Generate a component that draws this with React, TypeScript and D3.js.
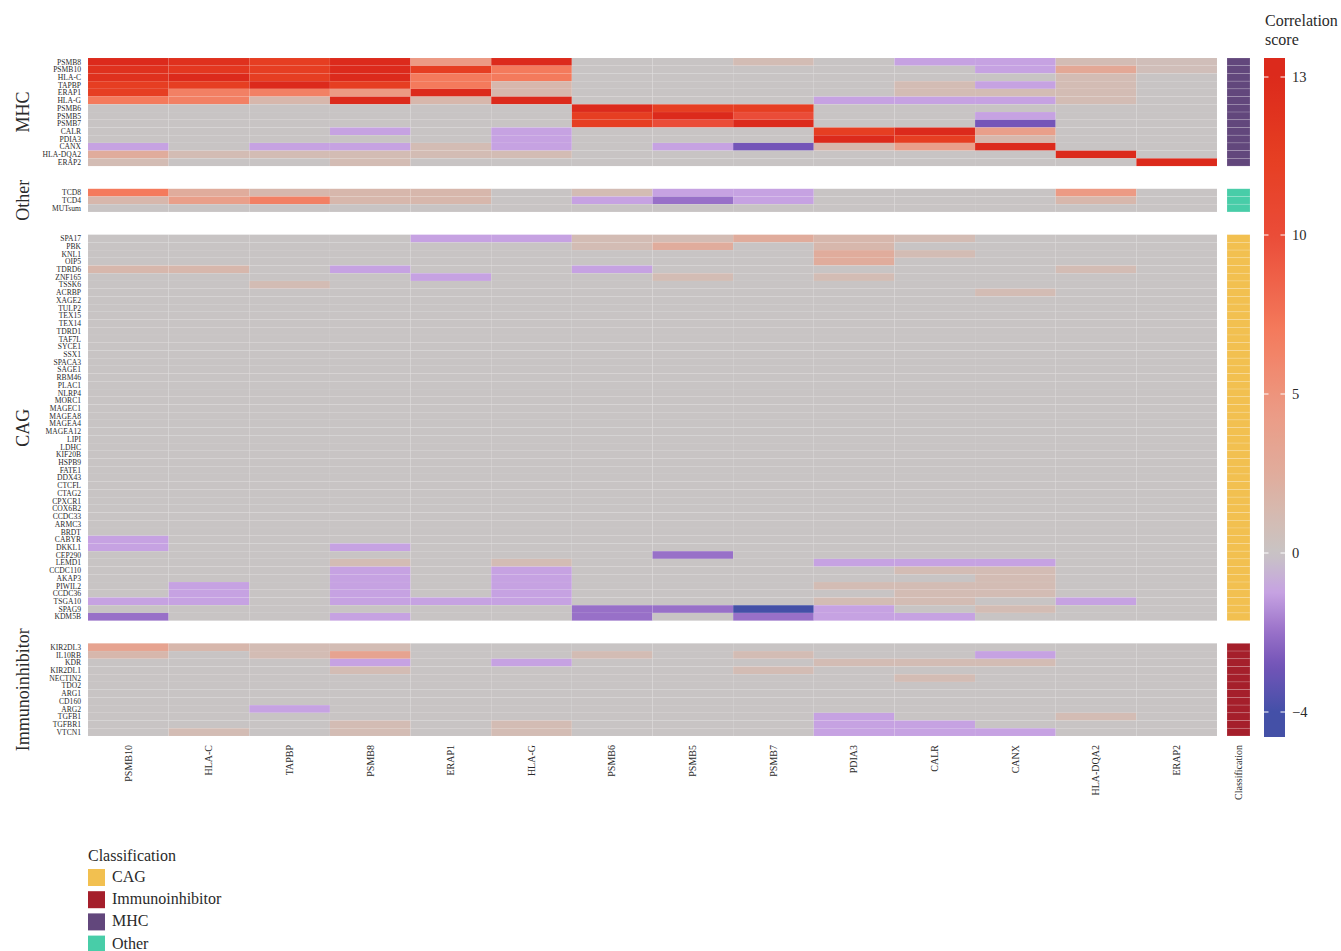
import { useEffect, useRef } from "react";
import * as d3 from "d3";

// heatmap columns
const columns = [
  "PSMB10", "HLA-C", "TAPBP", "PSMB8", "ERAP1", "HLA-G", "PSMB6",
  "PSMB5", "PSMB7", "PDIA3", "CALR", "CANX", "HLA-DQA2", "ERAP2",
];

const mhcRows = [
  "PSMB8", "PSMB10", "HLA-C", "TAPBP", "ERAP1", "HLA-G", "PSMB6",
  "PSMB5", "PSMB7", "CALR", "PDIA3", "CANX", "HLA-DQA2", "ERAP2",
];
const mhcValues = [
  [13, 12.5, 11.5, 13, 4.5, 13, 0, 0, 1, 0, -1, -1, 1, 0.7],
  [12.5, 12, 11.5, 13, 11.5, 7, 0, 0, 0, 0, 0, -1, 3, 0.7],
  [12.5, 13, 11.5, 13, 7, 7, 0, 0, 0, 0, 0, 0, 1, 0],
  [11.5, 11.5, 13, 11.5, 7, 1.5, 0, 0, 0, 0, 1, -1, 1, 0],
  [11.5, 6.5, 6.5, 4.5, 13, 1.5, 0, 0, 0, 0, 1, 1, 1, 0],
  [7, 6.5, 1.5, 13, 1.5, 13, 0, 0, 0, -1, -1, -1, 1, 0],
  [0, 0, 0, 0, 0, 0, 13, 11.5, 11.5, 0, 0, 0, 0, 0],
  [0, 0, 0, 0, 0, 0, 11.5, 13, 10, 0, 0, -1, 0, 0],
  [0, 0, 0, 0, 0, 0, 11.5, 10, 13, 0, 0, -2.8, 0, 0],
  [0, 0, 0, -1, 0, -1, 0, 0, 0, 11.5, 13, 4, 0, 0],
  [0, 0, 0, 0, 0, -1, 0, 0, 0, 13, 11.5, 1.5, 0, 0],
  [-1, 0, -1, -1, 1, -1, 0, -1, -2.8, 1.5, 4, 13, 0, 0],
  [2.5, 1, 1, 1, 1, 1, 0, 0, 0, 0, 0, 0, 13, 0],
  [1, 0, 0, 1, 0, 0, 0, 0, 0, 0, 0, 0, 0, 13],
];

const otherRows = ["TCD8", "TCD4", "MUTsum"];
const otherValues = [
  [7, 2.5, 1.5, 1.5, 1.5, 0, 1, -1, -1, 0, 0, 0, 4.5, 0],
  [1.5, 4, 6.5, 1.5, 1.5, 0, -1, -2, -1, 0, 0, 0, 1.5, 0],
  [0, 0, 0, 0, 0, 0, 0, 0, 0, 0, 0, 0, 0, 0],
];

const cagRows = [
  "SPA17", "PBK", "KNL1", "OIP5", "TDRD6", "ZNF165", "TSSK6", "ACRBP",
  "XAGE2", "TULP2", "TEX15", "TEX14", "TDRD1", "TAF7L", "SYCE1", "SSX1",
  "SPACA3", "SAGE1", "RBM46", "PLAC1", "NLRP4", "MORC1", "MAGEC1", "MAGEA8",
  "MAGEA4", "MAGEA12", "LIPI", "LDHC", "KIF20B", "HSPB9", "FATE1", "DDX43",
  "CTCFL", "CTAG2", "CPXCR1", "COX6B2", "CCDC33", "ARMC3", "BRDT", "CABYR",
  "DKKL1", "CEP290", "LEMD1", "CCDC110", "AKAP3", "PIWIL2", "CCDC36",
  "TSGA10", "SPAG9", "KDM5B",
];
const z = [0, 0, 0, 0, 0, 0, 0, 0, 0, 0, 0, 0, 0, 0];
const cagValues = [
  [0, 0, 0, 0, -1, -1, 1, 1, 2.5, 1.5, 1, 0, 0, 0],
  [0, 0, 0, 0, 0, 0, 1, 2.5, 0, 1.5, 0, 0, 0, 0],
  [0, 0, 0, 0, 0, 0, 0, 0, 0, 2.5, 1, 0, 0, 0],
  [0, 0, 0, 0, 0, 0, 0, 0, 0, 2.5, 0, 0, 0, 0],
  [1.5, 1.5, 0, -1, 0, 0, -1, 0, 0, 0, 0, 0, 1, 0],
  [0, 0, 0, 0, -1, 0, 0, 1, 0, 1, 0, 0, 0, 0],
  [0, 0, 1, 0, 0, 0, 0, 0, 0, 0, 0, 0, 0, 0],
  [0, 0, 0, 0, 0, 0, 0, 0, 0, 0, 0, 1, 0, 0],
  z, z, z, z, z, z, z, z, z, z, z, z, z, z, z, z,
  z, z, z, z, z, z, z, z, z, z, z, z, z, z, z,
  [-1, 0, 0, 0, 0, 0, 0, 0, 0, 0, 0, 0, 0, 0],
  [-1, 0, 0, -1, 0, 0, 0, 0, 0, 0, 0, 0, 0, 0],
  [0, 0, 0, 0, 0, 0, 0, -2, 0, 0, 0, 0, 0, 0],
  [0, 0, 0, 1, 0, 1, 0, 0, 0, -1, -1, -1, 0, 0],
  [0, 0, 0, -1, 0, -1, 0, 0, 0, 0, 1, 1, 0, 0],
  [0, 0, 0, -1, 0, -1, 0, 0, 0, 0, 0, 1, 0, 0],
  [0, -1, 0, -1, 0, -1, 0, 0, 0, 1, 1, 1, 0, 0],
  [0, -1, 0, -1, 0, -1, 0, 0, 0, 0, 1, 1, 0, 0],
  [-1, -1, 0, -1, -1, -1, 0, 0, 0, 1, 1, 0, -1, 0],
  [0, 0, 0, 0, 0, 0, -2, -2, -4.5, -1, 0, 1, 0, 0],
  [-2, 0, 0, -1, 0, 0, -2, 0, -2, -1, -1, 0, 0, 0],
];

const immRows = [
  "KIR2DL3", "IL10RB", "KDR", "KIR2DL1", "NECTIN2", "TDO2", "ARG1",
  "CD160", "ARG2", "TGFB1", "TGFBR1", "VTCN1",
];
const immValues = [
  [3.5, 1.5, 1, 1, 0, 0, 0, 0, 0, 0, 0, 0, 0, 0],
  [1.5, 0, 1, 3.5, 0, 0, 1, 0, 1, 0, 0, -1, 0, 0],
  [0, 0, 0, -1, 0, -1, 0, 0, 0, 1, 1, 1, 0, 0],
  [0, 0, 0, 1, 0, 0, 0, 0, 1, 0, 0, 0, 0, 0],
  [0, 0, 0, 0, 0, 0, 0, 0, 0, 0, 1, 0, 0, 0],
  z, z, z,
  [0, 0, -1, 0, 0, 0, 0, 0, 0, 0, 0, 0, 0, 0],
  [0, 0, 0, 0, 0, 0, 0, 0, 0, -1, 0, 0, 1, 0],
  [0, 0, 0, 1, 0, 1, 0, 0, 0, -1, -1, 0, 0, 0],
  [0, 1, 0, 1, 0, 1, 0, 0, 0, -1, -1, -1, 0, 0],
];

const groupNames = ["MHC", "Other", "CAG", "Immunoinhibitor"];
const groupColors = ["#62477c", "#48cda8", "#f2c050", "#a51f2b"];
const legendOrder = ["CAG", "Immunoinhibitor", "MHC", "Other"];

// colour stops of the correlation score
const colorStops = [-4.8, -4, -2.8, -2, -1, 0, 1, 2.5, 4.5, 7, 10, 11.5, 13, 13.6];
const colorValues = [
  "#4450a6", "#4450a8", "#7455b8", "#9870c8", "#c6a2e2", "#c8c4c4", "#d3bcb4",
  "#e0ac9c", "#ec9a84", "#f47a5c", "#ea4c38", "#e63e22", "#dc2a1c", "#dc2a1c",
];
const legendTicks = [-4, 0, 5, 10, 13];

const FONT = "'Liberation Serif', 'DejaVu Serif', serif";
const INK = "#2a2a2a";

const App = () => {
  const container = useRef(null);

  useEffect(() => {
    const svg = d3.select(container.current);
    svg.selectAll("*").remove();

    const color = d3
      .scaleLinear<string>()
      .domain(colorStops)
      .range(colorValues)
      .interpolate(d3.interpolateRgb)
      .clamp(true);

    const left = 88;
    const right = 1217;
    const top = 58;
    const rowH = 7.72;
    const gap = 22.7;

    const x = d3.scaleBand().domain(columns).range([left, right]);

    const groups = [
      { name: groupNames[0], rows: mhcRows, values: mhcValues, color: groupColors[0] },
      { name: groupNames[1], rows: otherRows, values: otherValues, color: groupColors[1] },
      { name: groupNames[2], rows: cagRows, values: cagValues, color: groupColors[2] },
      { name: groupNames[3], rows: immRows, values: immValues, color: groupColors[3] },
    ];

    let y0 = top;
    groups.forEach((g) => {
      const y = d3
        .scaleBand()
        .domain(g.rows)
        .range([y0, y0 + g.rows.length * rowH]);
      y0 += g.rows.length * rowH + gap;

      const cells = [];
      g.rows.forEach((r, i) => {
        columns.forEach((c, j) => {
          cells.push({ row: r, col: c, val: g.values[i][j] });
        });
      });

      const gg = svg.append("g");
      gg.selectAll("rect")
        .data(cells)
        .join("rect")
        .attr("x", (d) => x(d.col))
        .attr("y", (d) => y(d.row))
        .attr("width", x.bandwidth())
        .attr("height", y.bandwidth())
        .attr("fill", (d) => color(d.val))
        .attr("stroke", "#ffffff")
        .attr("stroke-opacity", 0.08)
        .attr("stroke-width", 0.5);

      // classification annotation
      gg.selectAll(".cls")
        .data(g.rows)
        .join("rect")
        .attr("class", "cls")
        .attr("x", 1227)
        .attr("y", (d) => y(d))
        .attr("width", 23)
        .attr("height", y.bandwidth())
        .attr("fill", g.color)
        .attr("stroke", "#ffffff")
        .attr("stroke-opacity", 0.25)
        .attr("stroke-width", 0.6);

      // row labels
      gg.selectAll(".rowlab")
        .data(g.rows)
        .join("text")
        .attr("class", "rowlab")
        .attr("x", 81)
        .attr("y", (d) => y(d) + y.bandwidth() / 2)
        .attr("dy", "0.35em")
        .attr("text-anchor", "end")
        .attr("font-family", FONT)
        .attr("font-size", 7.6)
        .attr("fill", INK)
        .text((d) => d);

      // group label
      const mid = (y.range()[0] + y.range()[1]) / 2;
      gg.append("text")
        .attr("transform", `translate(28.5, ${mid}) rotate(-90)`)
        .attr("text-anchor", "middle")
        .attr("font-family", FONT)
        .attr("font-size", 18)
        .attr("fill", INK)
        .text(g.name);
    });

    // column labels
    svg
      .append("g")
      .selectAll("text")
      .data([...columns, "Classification"])
      .join("text")
      .attr("transform", (d) => {
        const cx = d === "Classification" ? 1238.5 : x(d) + x.bandwidth() / 2;
        return `translate(${cx + 3.3}, 745) rotate(-90)`;
      })
      .attr("text-anchor", "end")
      .attr("font-family", FONT)
      .attr("font-size", 10)
      .attr("fill", INK)
      .text((d) => d);

    // colour bar
    const barPos = d3
      .scaleLinear()
      .domain([-4.63, -4, 0, 5, 10, 13, 13.36])
      .range([737, 712, 553, 394, 235, 77, 58]);

    const defs = svg.append("defs");
    const grad = defs
      .append("linearGradient")
      .attr("id", "cbar")
      .attr("x1", 0)
      .attr("x2", 0)
      .attr("y1", 1)
      .attr("y2", 0);
    const nStops = 80;
    grad
      .selectAll("stop")
      .data(d3.range(nStops + 1))
      .join("stop")
      .attr("offset", (i) => i / nStops)
      .attr("stop-color", (i) => color(barPos.invert(737 - (i / nStops) * (737 - 58))));

    svg
      .append("rect")
      .attr("x", 1264)
      .attr("y", 58)
      .attr("width", 21)
      .attr("height", 737 - 58)
      .attr("fill", "url(#cbar)");

    const tickG = svg.append("g");
    legendTicks.forEach((t) => {
      const ty = barPos(t);
      tickG
        .append("line")
        .attr("x1", 1264).attr("x2", 1268.5)
        .attr("y1", ty).attr("y2", ty)
        .attr("stroke", "#fff").attr("stroke-width", 1);
      tickG
        .append("line")
        .attr("x1", 1280.5).attr("x2", 1285)
        .attr("y1", ty).attr("y2", ty)
        .attr("stroke", "#fff").attr("stroke-width", 1);
      tickG
        .append("text")
        .attr("x", 1292)
        .attr("y", ty)
        .attr("dy", "0.35em")
        .attr("font-family", FONT)
        .attr("font-size", 14.5)
        .attr("fill", INK)
        .text(d3.format("d")(t));
    });

    svg
      .append("text")
      .attr("x", 1265)
      .attr("y", 26)
      .attr("font-family", FONT)
      .attr("font-size", 16)
      .attr("fill", INK)
      .text("Correlation");
    svg
      .append("text")
      .attr("x", 1265)
      .attr("y", 45)
      .attr("font-family", FONT)
      .attr("font-size", 16)
      .attr("fill", INK)
      .text("score");

    // classification legend
    const leg = svg.append("g");
    leg
      .append("text")
      .attr("x", 88)
      .attr("y", 861)
      .attr("font-family", FONT)
      .attr("font-size", 16)
      .attr("fill", INK)
      .text("Classification");
    legendOrder.forEach((name, i) => {
      const ly = 869 + i * 22.2;
      leg
        .append("rect")
        .attr("x", 88)
        .attr("y", ly)
        .attr("width", 17)
        .attr("height", 17)
        .attr("fill", groupColors[groupNames.indexOf(name)]);
      leg
        .append("text")
        .attr("x", 112)
        .attr("y", ly + 13)
        .attr("font-family", FONT)
        .attr("font-size", 16)
        .attr("fill", INK)
        .text(name);
    });
  }, []);

  return (
    <svg
      ref={container}
      width={1341}
      height={951}
      style={{ position: "absolute", left: 0, top: 0, background: "#fff" }}
    />
  );
};

export default App;
